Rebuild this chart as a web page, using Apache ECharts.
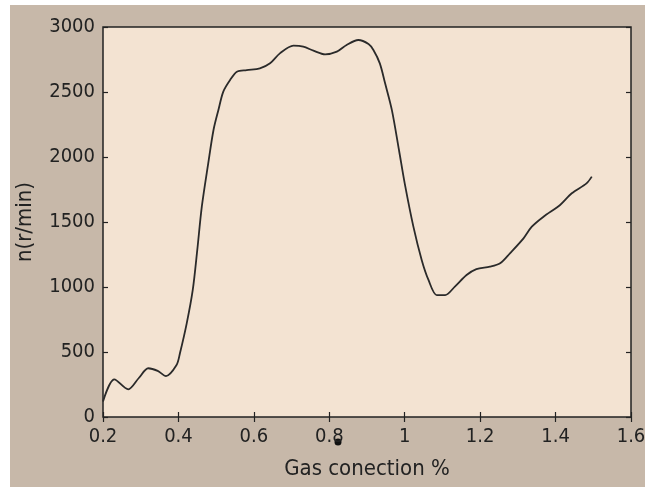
<!DOCTYPE html>
<html>
<head>
<meta charset="utf-8">
<script src="https://cdn.jsdelivr.net/npm/echarts@6/dist/echarts.min.js"></script>
<style>
html,body{margin:0;padding:0;background:#ffffff;width:645px;height:487px;overflow:hidden;}
#chart{position:absolute;left:10px;top:5px;width:635px;height:482px;}
</style>
</head>
<body>
<div id="chart"></div>
<script>
const xTickLabels = ['0.2','0.4','0.6','0.8','1','1.2','1.4','1.6'];
const yTickLabels = ['0','500','1000','1500','2000','2500','3000'];
const gasConc = [0.2,0.23,0.267,0.295,0.32,0.345,0.367,0.395,0.404,0.422,0.438,0.45,0.462,0.479,0.493,0.506,0.519,0.537,0.555,0.581,0.616,0.643,0.669,0.705,0.731,0.758,0.789,0.82,0.846,0.877,0.904,0.917,0.934,0.948,0.966,0.985,1.0,1.023,1.045,1.063,1.085,1.107,1.133,1.164,1.19,1.226,1.253,1.279,1.315,1.337,1.368,1.412,1.443,1.482,1.496];
const speed = [120,290,213,300,375,355,315,400,490,720,977,1285,1618,1951,2208,2362,2503,2592,2656,2669,2682,2721,2797,2856,2849,2818,2790,2810,2862,2900,2869,2823,2720,2567,2361,2050,1797,1464,1208,1054,938,938,1003,1092,1138,1156,1182,1259,1374,1464,1541,1631,1721,1797,1849];

const chart = echarts.init(document.getElementById('chart'), null, {renderer:'canvas'});
const font = "'DejaVu Sans Condensed', 'Liberation Sans', sans-serif";
const axisCommon = {
  axisLine:{show:false},
  axisTick:{show:true,inside:true,length:5,lineStyle:{color:'#222',width:1.2}},
  splitLine:{show:false}
};
chart.setOption({
  backgroundColor:'#c7b8a9',
  animation:false,
  grid:{left:93,top:22,right:14,bottom:70,outerBoundsMode:'none',containLabel:false,show:true,backgroundColor:'#f3e3d2',borderColor:'#222',borderWidth:1.5},
  xAxis:[
    Object.assign({type:'value',min:0.2,max:1.6,interval:0.2,position:'bottom',
      name:'Gas conection %',nameLocation:'middle',nameGap:41,
      nameTextStyle:{fontFamily:font,fontSize:22,color:'#222'},
      axisLabel:{show:true,margin:10,fontFamily:font,fontSize:20,color:'#222',
        formatter:function(v){return xTickLabels[Math.round((v-0.2)/0.2)];}}},axisCommon),
    Object.assign({type:'value',min:0.2,max:1.6,interval:0.2,position:'top',axisLabel:{show:false}},axisCommon)
  ],
  yAxis:[
    Object.assign({type:'value',min:0,max:3000,interval:500,position:'left',
      name:'n(r/min)',nameLocation:'middle',nameGap:67,
      nameTextStyle:{fontFamily:font,fontSize:22,color:'#222'},
      axisLabel:{show:true,margin:8,fontFamily:font,fontSize:20,color:'#222',
        formatter:function(v){return yTickLabels[Math.round(v/500)];}}},axisCommon),
    Object.assign({type:'value',min:0,max:3000,interval:500,position:'right',axisLabel:{show:false}},axisCommon)
  ],
  series:[{
    type:'line',
    data:gasConc.map((x,i)=>[x,speed[i]]),
    smooth:0.3,
    showSymbol:false,
    lineStyle:{color:'#2a2a2a',width:1.8},
    xAxisIndex:0,yAxisIndex:0
  }],
  graphic:[{type:'circle',shape:{cx:328,cy:437,r:3.5},style:{fill:'#111'}}]
});
</script>
</body>
</html>
